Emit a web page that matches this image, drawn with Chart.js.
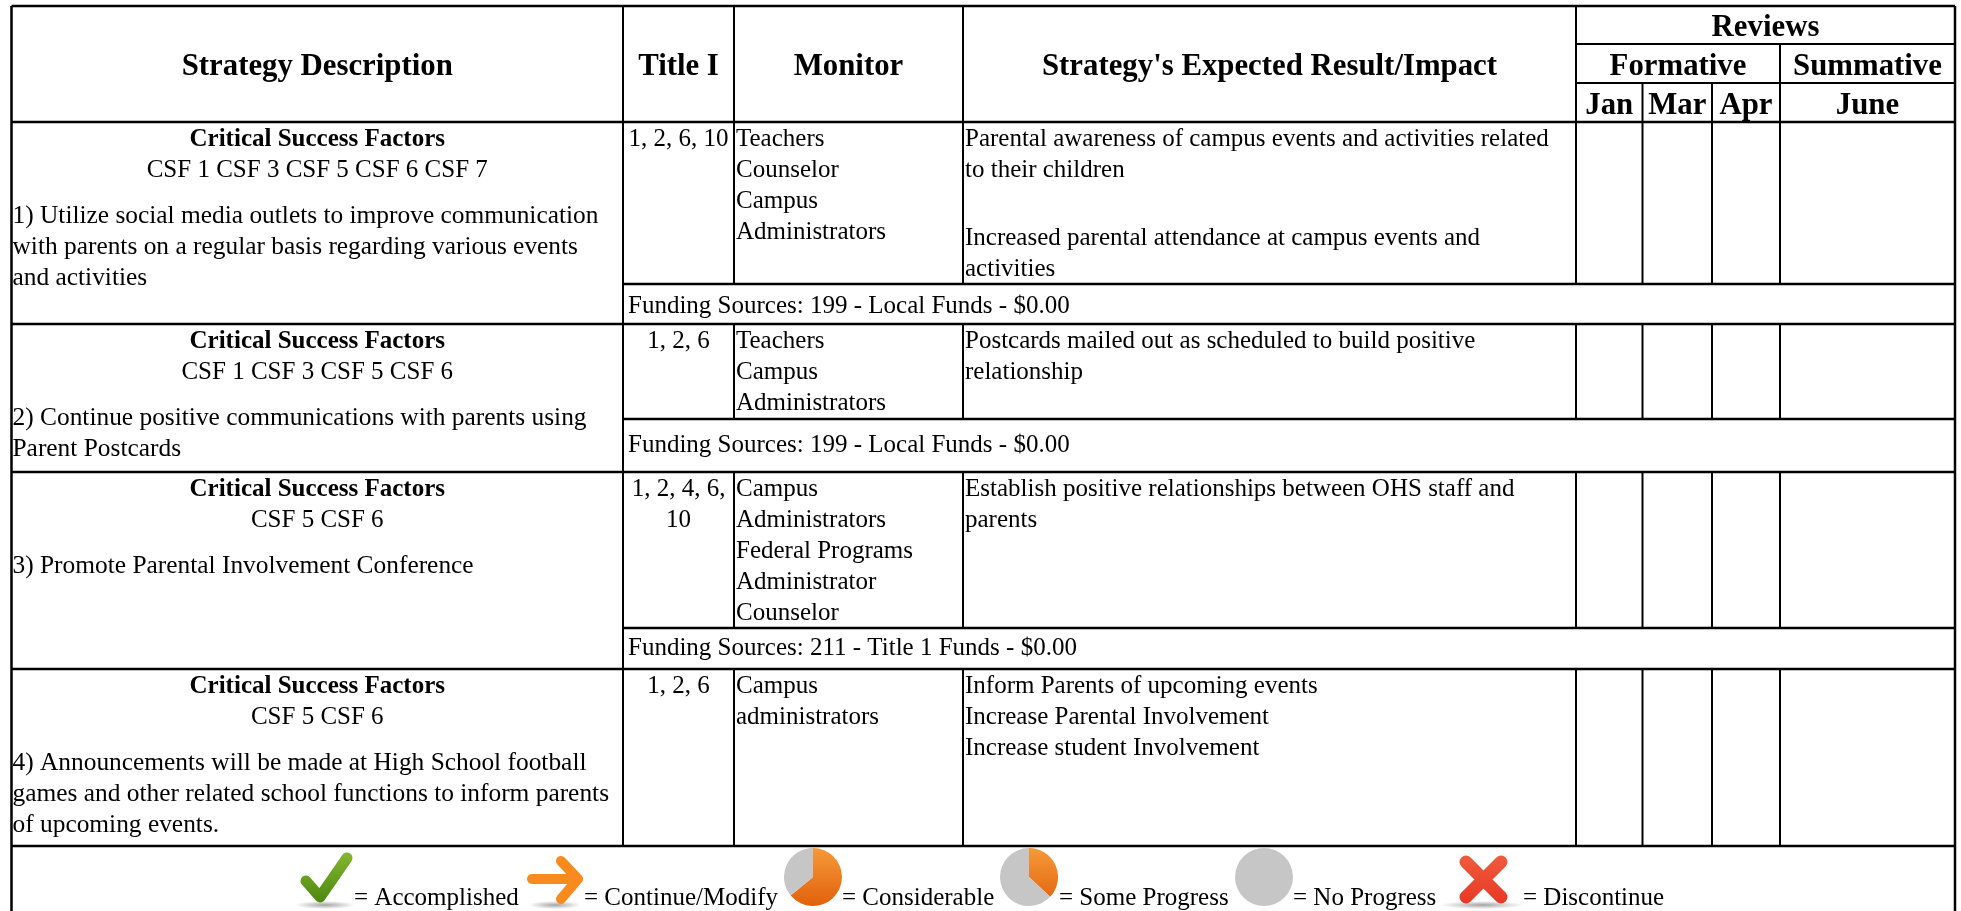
<!DOCTYPE html>
<html>
<head>
<meta charset="utf-8">
<title>Strategy table</title>
<script src="https://cdn.jsdelivr.net/npm/chart.js@4"></script>
<style>
  html, body { margin: 0; padding: 0; background: #fff; overflow: hidden; }
  #wrap { position: relative; width: 1961px; height: 911px; }
  #chartTable { position: absolute; left: 0; top: 0; filter: blur(0.35px); }
  .pie { position: absolute; top: 848px; width: 58px; height: 58px; filter: blur(0.6px); }
</style>
</head>
<body>
<div id="wrap">
  <canvas id="chartTable" width="1961" height="911"></canvas>
  <canvas id="pieConsiderable" class="pie" width="58" height="58" style="left:784px"></canvas>
  <canvas id="pieSome" class="pie" width="58" height="58" style="left:1000px"></canvas>
  <canvas id="pieNone" class="pie" width="58" height="58" style="left:1235px"></canvas>
</div>
<script>
// table text
const headers = ['Strategy Description', 'Title I', 'Monitor', "Strategy's Expected Result/Impact"];
const reviewsTitle = 'Reviews';
const formativeTitle = 'Formative';
const summativeTitle = 'Summative';
const months = ['Jan', 'Mar', 'Apr', 'June'];

const csfTitle = 'Critical Success Factors';
const csfLines = ['CSF 1 CSF 3 CSF 5 CSF 6 CSF 7', 'CSF 1 CSF 3 CSF 5 CSF 6', 'CSF 5 CSF 6', 'CSF 5 CSF 6'];
const strategies = [
  ['1) Utilize social media outlets to improve communication', 'with parents on a regular basis regarding various events', 'and activities'],
  ['2) Continue positive communications with parents using', 'Parent Postcards'],
  ['3) Promote Parental Involvement Conference'],
  ['4) Announcements will be made at High School football', 'games and other related school functions to inform parents', 'of upcoming events.']
];
const titleOne = [['1, 2, 6, 10'], ['1, 2, 6'], ['1, 2, 4, 6,', '10'], ['1, 2, 6']];
const monitors = [
  ['Teachers', 'Counselor', 'Campus', 'Administrators'],
  ['Teachers', 'Campus', 'Administrators'],
  ['Campus', 'Administrators', 'Federal Programs', 'Administrator', 'Counselor'],
  ['Campus', 'administrators']
];
const impacts = [
  ['Parental awareness of campus events and activities related', 'to their children', '', 'Increased parental attendance at campus events and', 'activities'],
  ['Postcards mailed out as scheduled to build positive', 'relationship'],
  ['Establish positive relationships between OHS staff and', 'parents'],
  ['Inform Parents of upcoming events', 'Increase Parental Involvement', 'Increase student Involvement']
];
const funding = [
  'Funding Sources: 199 - Local Funds - $0.00',
  'Funding Sources: 199 - Local Funds - $0.00',
  'Funding Sources: 211 - Title 1 Funds - $0.00'
];
const legendLabels = ['= Accomplished', '= Continue/Modify', '= Considerable', '= Some Progress', '= No Progress', '= Discontinue'];

// share of each pie icon: orange, grey
const considerableShare = [64, 36];
const someShare = [37, 63];
const noneShare = [0, 100];

// table grid
const colX = [11.5, 623, 734, 963, 1576, 1642.5, 1712, 1780, 1955];
const headY = [6, 44, 83, 122];
const rowY = [122, 324, 472, 669, 846];
const fundY = [284, 419, 628];
const fundBase = [313, 452, 655];
const legendTextX = [354, 584, 842, 1059, 1293, 1523];

const bodyFont = '25px "Liberation Serif"';
const strategyFont = '25.4px "Liberation Serif"';
const boldFont = 'bold 25px "Liberation Serif"';
const headFont = 'bold 30.8px "Liberation Serif"';

// rule segments, NaN breaks the line between them
function seg(list, x1, y1, x2, y2) {
  list.push({x: x1, y: y1}, {x: x2, y: y2}, {x: NaN, y: NaN});
}
const lastX = colX[colX.length - 1];
const thickRules = [];
const thinRules = [];
seg(thickRules, colX[0], headY[0], lastX, headY[0]);
rowY.forEach(y => seg(thickRules, colX[0], y, lastX, y));
seg(thickRules, colX[0], headY[0], colX[0], 911);
seg(thickRules, lastX, headY[0], lastX, 911);
[1, 2, 3, 4].forEach(i => seg(thinRules, colX[i], headY[0], colX[i], headY[3]));
seg(thinRules, colX[4], headY[1], lastX, headY[1]);
seg(thinRules, colX[4], headY[2], lastX, headY[2]);
[5, 6].forEach(i => seg(thinRules, colX[i], headY[2], colX[i], headY[3]));
seg(thinRules, colX[7], headY[1], colX[7], headY[3]);
rowY.slice(0, 4).forEach((top, r) => {
  const cellEnd = r < 3 ? fundY[r] : rowY[r + 1];
  [1, 2, 3, 4, 5, 6, 7].forEach(i => seg(thinRules, colX[i], top, colX[i], cellEnd));
  if (r < 3) {
    seg(thickRules, colX[1], fundY[r], lastX, fundY[r]);
    seg(thinRules, colX[1], fundY[r], colX[1], rowY[r + 1]);
  }
});

// text and legend glyphs go through the chart's scales
const tablePlugin = {
  id: 'tableText',
  afterDatasetsDraw(chart) {
    const c = chart.ctx;
    const sx = v => chart.scales.x.getPixelForValue(v);
    const sy = v => chart.scales.y.getPixelForValue(v);
    const put = (s, x, y, font, align) => {
      c.font = font;
      c.textAlign = align || 'left';
      c.textBaseline = 'alphabetic';
      c.fillStyle = '#000';
      c.fillText(s, sx(x), sy(y));
    };
    const mid = (a, b) => (colX[a] + colX[b]) / 2;
    const shadow = (x, y, rx) => {
      const g = c.createRadialGradient(0, 0, 0, 0, 0, 1);
      g.addColorStop(0, 'rgba(90,90,90,0.55)');
      g.addColorStop(1, 'rgba(90,90,90,0)');
      c.save();
      c.translate(sx(x), sy(y));
      c.scale(rx, 4);
      c.fillStyle = g;
      c.beginPath();
      c.arc(0, 0, 1, 0, Math.PI * 2);
      c.fill();
      c.restore();
    };

    c.save();
    put(headers[0], mid(0, 1), 75, headFont, 'center');
    put(headers[1], mid(1, 2), 75, headFont, 'center');
    put(headers[2], mid(2, 3), 75, headFont, 'center');
    put(headers[3], mid(3, 4), 75, headFont, 'center');
    put(reviewsTitle, mid(4, 8), 36, headFont, 'center');
    put(formativeTitle, mid(4, 7), 75, headFont, 'center');
    put(summativeTitle, mid(7, 8), 75, headFont, 'center');
    months.forEach((m, i) => put(m, mid(4 + i, 5 + i), 114, headFont, 'center'));

    rowY.slice(0, 4).forEach((top, r) => {
      put(csfTitle, mid(0, 1), top + 24, boldFont, 'center');
      put(csfLines[r], mid(0, 1), top + 55, bodyFont, 'center');
      strategies[r].forEach((s, i) => put(s, colX[0] + 1, top + 101 + i * 31, strategyFont));
      titleOne[r].forEach((s, i) => put(s, mid(1, 2), top + 24 + i * 31, bodyFont, 'center'));
      monitors[r].forEach((s, i) => put(s, colX[2] + 2, top + 24 + i * 31, bodyFont));
      let y = top + 24;
      impacts[r].forEach(s => {
        if (s === '') { y += 37; return; }
        put(s, colX[3] + 2, y, bodyFont);
        y += 31;
      });
      if (r < 3) put(funding[r], colX[1] + 5, fundBase[r], bodyFont);
    });

    legendLabels.forEach((s, i) => put(s, legendTextX[i], 905, bodyFont));

    shadow(325, 905, 30);
    shadow(555, 905, 26);
    shadow(1482, 905, 42);

    // check mark
    c.lineCap = 'round';
    c.lineJoin = 'round';
    let g = c.createLinearGradient(0, sy(855), 0, sy(900));
    g.addColorStop(0, '#82b52e');
    g.addColorStop(1, '#4f8a12');
    c.strokeStyle = g;
    c.lineWidth = 11;
    c.beginPath();
    c.moveTo(sx(306), sy(881));
    c.lineTo(sx(320), sy(897));
    c.lineTo(sx(347), sy(858));
    c.stroke();

    // arrow
    c.strokeStyle = '#f98a1e';
    c.lineWidth = 10;
    c.beginPath();
    c.moveTo(sx(532), sy(879));
    c.lineTo(sx(577), sy(879));
    c.moveTo(sx(561), sy(861));
    c.lineTo(sx(578), sy(879));
    c.lineTo(sx(561), sy(899));
    c.stroke();

    // cross
    g = c.createLinearGradient(0, sy(857), 0, sy(901));
    g.addColorStop(0, '#ef5a3c');
    g.addColorStop(1, '#e83a26');
    c.strokeStyle = g;
    c.lineWidth = 13;
    c.beginPath();
    c.moveTo(sx(1466), sy(862));
    c.lineTo(sx(1501), sy(897));
    c.moveTo(sx(1501), sy(862));
    c.lineTo(sx(1466), sy(897));
    c.stroke();
    c.restore();
  }
};

const tableChart = new Chart(
  document.getElementById('chartTable'),
  {
    type: 'scatter',
    data: {
      datasets: [
        {data: thinRules, showLine: true, spanGaps: false, borderColor: '#000', borderWidth: 2, pointRadius: 0},
        {data: thickRules, showLine: true, spanGaps: false, borderColor: '#000', borderWidth: 2.5, pointRadius: 0}
      ]
    },
    options: {
      responsive: false,
      animation: false,
      layout: {padding: 0},
      plugins: {legend: {display: false}, tooltip: {enabled: false}},
      scales: {
        x: {type: 'linear', display: false, min: 0, max: 1961},
        y: {type: 'linear', display: false, min: 0, max: 911, reverse: true}
      }
    },
    plugins: [tablePlugin]
  });

function makePie(id, share) {
  const el = document.getElementById(id);
  const orange = el.getContext('2d').createLinearGradient(0, 0, 0, 58);
  orange.addColorStop(0, '#f59a3a');
  orange.addColorStop(1, '#e2600c');
  return new Chart(el, {
    type: 'pie',
    data: {
      datasets: [{data: share, backgroundColor: [orange, '#c6c6c6'], borderWidth: 0}]
    },
    options: {
      responsive: false,
      animation: false,
      layout: {padding: 0},
      plugins: {legend: {display: false}, tooltip: {enabled: false}}
    }
  });
}
makePie('pieConsiderable', considerableShare);
makePie('pieSome', someShare);
makePie('pieNone', noneShare);
</script>
</body>
</html>
